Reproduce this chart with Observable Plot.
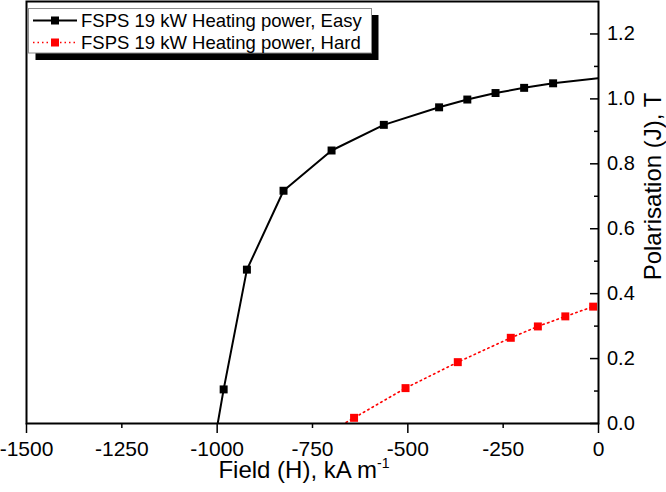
<!DOCTYPE html>
<html><head><meta charset="utf-8">
<script src="https://cdn.jsdelivr.net/npm/d3@7"></script>
<script src="https://cdn.jsdelivr.net/npm/@observablehq/plot@0.6"></script>
<style>
html,body{margin:0;padding:0;background:#fff;}
#chart{position:relative;width:666px;height:492px;}
</style></head><body><div id="chart"></div>
<script>
// Data (line extends beyond the frame at both ends; clipped)
const easyField = [-1006, -983, -922, -826, -700, -563, -418, -344, -270, -195, -119, 40];
const easyJ     = [-0.05, 0.105, 0.474, 0.717, 0.841, 0.920, 0.974, 0.998, 1.018, 1.034, 1.048, 1.069];
const hardField = [-696, -641, -506, -369, -230, -159, -87, -14];
const hardJ     = [-0.02, 0.0175, 0.109, 0.189, 0.264, 0.299, 0.330, 0.360];

const xTicksMajor = [-1500, -1000, -500, 0];
const xTicksMinor = [-1250, -750, -250];
const xTickLabels = [-1500, -1250, -1000, -750, -500, -250, 0];
const yTicksMajor = [0, 0.2, 0.4, 0.6, 0.8, 1.0, 1.2];
const yTicksMinor = [0.1, 0.3, 0.5, 0.7, 0.9, 1.1];

const seriesNames = ["FSPS 19 kW Heating power, Easy", "FSPS 19 kW Heating power, Hard"];
const seriesColors = ["#000000", "#ff0000"];
const xTitle = "Field (H), kA m";
const xTitleSup = "-1";
const yTitle = "Polarisation (J), T";

const easy = easyField.map((x, i) => ({x, y: easyJ[i]}));
const hard = hardField.map((x, i) => ({x, y: hardJ[i]}));

const FONT = "'Liberation Sans', Arial, Helvetica, sans-serif";

const plot = Plot.plot({
  width: 666, height: 492,
  marginLeft: 26, marginRight: 68, marginTop: 1, marginBottom: 69,
  x: {domain: [-1500, 0]},
  y: {domain: [0, 1.3]},
  style: {fontFamily: FONT, background: "white", color: "black"},
  marks: [
    Plot.line(easy, {x: "x", y: "y", stroke: seriesColors[0], strokeWidth: 2, clip: true}),
    Plot.dot(easy, {x: "x", y: "y", symbol: "square", r: 4.5, fill: seriesColors[0], stroke: "none", clip: true}),
    Plot.line(hard, {x: "x", y: "y", stroke: seriesColors[1], strokeWidth: 1.6, strokeDasharray: "1.5,3.5", clip: true}),
    Plot.dot(hard, {x: "x", y: "y", symbol: "square", r: 4.5, fill: seriesColors[1], stroke: "none", clip: true}),
    Plot.frame({stroke: "black", strokeWidth: 2}),
    Plot.axisX({ticks: xTicksMajor, tickSize: 10, tickFormat: () => "", label: null, strokeWidth: 1.5}),
    Plot.axisX({ticks: xTicksMinor, tickSize: 5, tickFormat: () => "", label: null, strokeWidth: 1.5}),
    Plot.axisX({ticks: xTickLabels, tickSize: 0, tickPadding: 17.5, fontSize: 21, tickFormat: d => String(d), label: null}),
    Plot.axisY({anchor: "left", frameAnchor: "right", ticks: yTicksMajor, tickSize: 8, tickFormat: () => "", label: null, strokeWidth: 1.5}),
    Plot.axisY({anchor: "left", frameAnchor: "right", ticks: yTicksMinor, tickSize: 4, tickFormat: () => "", label: null, strokeWidth: 1.5}),
    Plot.axisY({anchor: "right", ticks: yTicksMajor, tickSize: 0, tickPadding: 8.5, fontSize: 20, tickFormat: d3.format(".1f"), label: null})
  ]
});

const svg = d3.select(plot);

// Axis titles
const xt = svg.append("text")
  .attr("x", 304).attr("y", 478)
  .attr("text-anchor", "middle")
  .attr("font-family", FONT).attr("font-size", 24).attr("fill", "black");
xt.append("tspan").text(xTitle);
xt.append("tspan").attr("font-size", 14).attr("dy", -10).text(xTitleSup);

svg.append("text")
  .attr("transform", "translate(661,186.5) rotate(-90)")
  .attr("text-anchor", "middle")
  .attr("font-family", FONT).attr("font-size", 24).attr("fill", "black")
  .text(yTitle);

// Legend (inside plot area, top-left)
const lg = svg.append("g");
lg.append("rect").attr("x", 35.5).attr("y", 15).attr("width", 343).attr("height", 45).attr("fill", "black");
lg.append("rect").attr("x", 28.5).attr("y", 8.5).attr("width", 343).attr("height", 44.5)
  .attr("fill", "white").attr("stroke", "#8c8c8c").attr("stroke-width", 1);
const rows = [
  {y: 20.5, color: seriesColors[0], dash: null, width: 2, name: seriesNames[0]},
  {y: 42.5, color: seriesColors[1], dash: "1.5,3", width: 1.6, name: seriesNames[1]}
];
rows.forEach(r => {
  lg.append("line").attr("x1", 33).attr("x2", 77).attr("y1", r.y).attr("y2", r.y)
    .attr("stroke", r.color).attr("stroke-width", r.width)
    .attr("stroke-dasharray", r.dash);
  lg.append("rect").attr("x", 51).attr("y", r.y - 4).attr("width", 8).attr("height", 8).attr("fill", r.color);
  lg.append("text").attr("x", 81).attr("y", r.y + 6.8)
    .attr("text-anchor", "start")
    .attr("font-family", FONT).attr("font-size", 18.5).attr("fill", "black")
    .text(r.name);
});

document.getElementById("chart").appendChild(plot);
</script>
</body></html>
